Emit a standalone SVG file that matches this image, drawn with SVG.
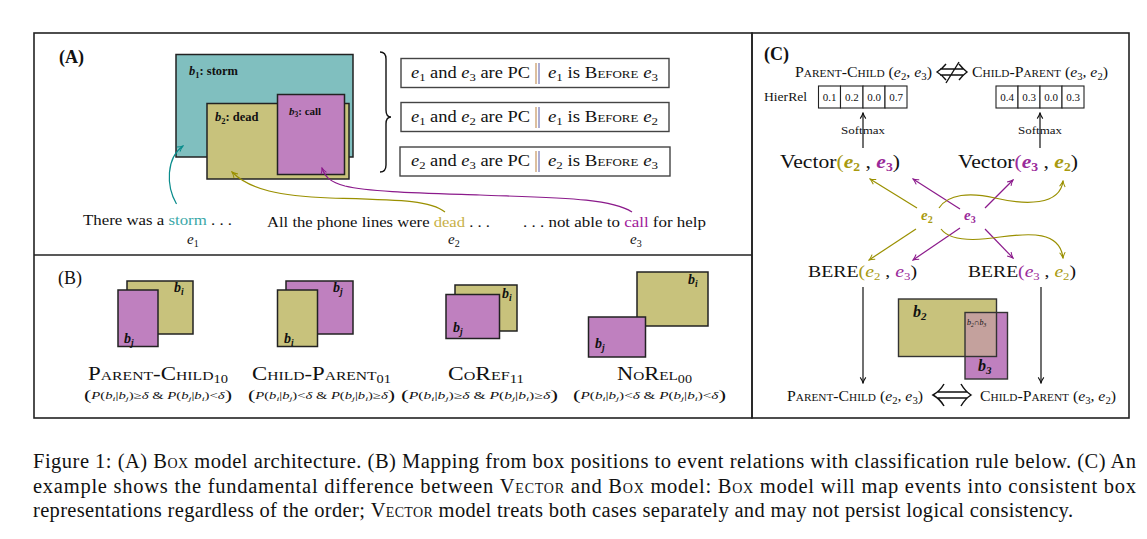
<svg xmlns="http://www.w3.org/2000/svg" width="1147" height="539" viewBox="0 0 1147 539">
<style>
text{font-family:"Liberation Serif","DejaVu Serif",serif;fill:#111}
.sc{font-variant:small-caps}
.i{font-style:italic}
.bi{font-style:italic;font-weight:bold}
.b{font-weight:bold}
.frame{fill:none;stroke:#222;stroke-width:1.6}
.bx{stroke:#222;stroke-width:1.5}
.teal{fill:#80bfbf}
.olive{fill:#c8c27c}
.purp{fill:#bf80bf}
.rbox{fill:#fff;stroke:#444;stroke-width:1.4}
.ln{fill:none;stroke-width:1.2}
.k{stroke:#111}
.tc{stroke:#0a8c8c}
.oc{stroke:#9a9000}
.pc{stroke:#8b1a8b}
.cell{fill:#fff;stroke:#222;stroke-width:1.1}
.ct{font-size:11px;text-anchor:middle}
.eo{fill:#a89a10}
.ep{fill:#9a2a9a}
.cond{font-size:10px}
</style>
<defs>
<marker id="mk" viewBox="0 0 10 10" refX="9" refY="5" markerWidth="8" markerHeight="8" markerUnits="userSpaceOnUse" orient="auto"><path d="M2,1.5 Q6,4.2 9,5 Q6,5.8 2,8.5" fill="none" stroke="#111" stroke-width="1.3"/></marker>
<marker id="mt" viewBox="0 0 10 10" refX="9" refY="5" markerWidth="8" markerHeight="8" markerUnits="userSpaceOnUse" orient="auto"><path d="M2,1.5 Q6,4.2 9,5 Q6,5.8 2,8.5" fill="none" stroke="#0a8c8c" stroke-width="1.3"/></marker>
<marker id="mo" viewBox="0 0 10 10" refX="9" refY="5" markerWidth="8" markerHeight="8" markerUnits="userSpaceOnUse" orient="auto"><path d="M2,1.5 Q6,4.2 9,5 Q6,5.8 2,8.5" fill="none" stroke="#9a9000" stroke-width="1.3"/></marker>
<marker id="mp" viewBox="0 0 10 10" refX="9" refY="5" markerWidth="8" markerHeight="8" markerUnits="userSpaceOnUse" orient="auto"><path d="M2,1.5 Q6,4.2 9,5 Q6,5.8 2,8.5" fill="none" stroke="#8b1a8b" stroke-width="1.3"/></marker>
</defs>
<rect width="1147" height="539" fill="#fff"/>

<!-- frames -->
<g id="frames">
<rect class="frame" x="34" y="33" width="718" height="385"/>
<line class="frame" x1="34" y1="255" x2="752" y2="255"/>
<rect class="frame" x="752" y="33" width="377" height="385"/>
</g>

<!-- Panel A -->
<g id="panelA">
<text x="59" y="63" class="b" font-size="18">(A)</text>
<g id="box-b1"><rect class="bx teal" x="176" y="54.5" width="177" height="102.5"/>
<text x="189" y="75" class="b" font-size="12.5"><tspan class="bi">b</tspan><tspan font-size="8.5" dy="2.5">1</tspan><tspan dy="-2.5">: storm</tspan></text></g>
<g id="box-b2"><rect class="bx olive" x="207" y="103.5" width="142" height="75.5"/>
<text x="215" y="121" class="b" font-size="12.5"><tspan class="bi">b</tspan><tspan font-size="8.5" dy="2.5">2</tspan><tspan dy="-2.5">: dead</tspan></text></g>
<g id="box-b3"><rect class="bx purp" x="277.5" y="94.5" width="67" height="80"/>
<text x="289" y="115" class="b" font-size="11"><tspan class="bi">b</tspan><tspan font-size="7.5" dy="2">3</tspan><tspan dy="-2">: call</tspan></text></g>
<path d="M380,52 Q386,52 386,59 L386,110 Q386,117 391,117 Q386,117 386,124 L386,165 Q386,172 380,172" fill="none" stroke="#111" stroke-width="1.4"/>

<g id="rel1"><rect class="rbox" x="401" y="58.5" width="268" height="29"/>
<text x="411" y="77.5" font-size="16" textLength="119" lengthAdjust="spacingAndGlyphs"><tspan class="i">e</tspan><tspan font-size="11" dy="3">1</tspan><tspan dy="-3"> and </tspan><tspan class="i">e</tspan><tspan font-size="11" dy="3">3</tspan><tspan dy="-3"> are PC</tspan></text>
<line x1="536" y1="63" x2="536" y2="84" stroke="#c08a50" stroke-width="1.1"/><line x1="539" y1="63" x2="539" y2="84" stroke="#6a6ab0" stroke-width="1.1"/>
<text x="548" y="77.5" font-size="16" textLength="110" lengthAdjust="spacingAndGlyphs"><tspan class="i">e</tspan><tspan font-size="11" dy="3">1</tspan><tspan dy="-3"> is </tspan><tspan class="sc">Before</tspan><tspan> </tspan><tspan class="i">e</tspan><tspan font-size="11" dy="3">3</tspan></text></g>

<g id="rel2"><rect class="rbox" x="401" y="102.5" width="268" height="29"/>
<text x="411" y="121.5" font-size="16" textLength="119" lengthAdjust="spacingAndGlyphs"><tspan class="i">e</tspan><tspan font-size="11" dy="3">1</tspan><tspan dy="-3"> and </tspan><tspan class="i">e</tspan><tspan font-size="11" dy="3">2</tspan><tspan dy="-3"> are PC</tspan></text>
<line x1="536" y1="107" x2="536" y2="128" stroke="#c08a50" stroke-width="1.1"/><line x1="539" y1="107" x2="539" y2="128" stroke="#6a6ab0" stroke-width="1.1"/>
<text x="548" y="121.5" font-size="16" textLength="110" lengthAdjust="spacingAndGlyphs"><tspan class="i">e</tspan><tspan font-size="11" dy="3">1</tspan><tspan dy="-3"> is </tspan><tspan class="sc">Before</tspan><tspan> </tspan><tspan class="i">e</tspan><tspan font-size="11" dy="3">2</tspan></text></g>

<g id="rel3"><rect class="rbox" x="400" y="147" width="270" height="29"/>
<text x="411" y="165.5" font-size="16" textLength="119" lengthAdjust="spacingAndGlyphs"><tspan class="i">e</tspan><tspan font-size="11" dy="3">2</tspan><tspan dy="-3"> and </tspan><tspan class="i">e</tspan><tspan font-size="11" dy="3">3</tspan><tspan dy="-3"> are PC</tspan></text>
<line x1="536" y1="151" x2="536" y2="172" stroke="#c08a50" stroke-width="1.1"/><line x1="539" y1="151" x2="539" y2="172" stroke="#6a6ab0" stroke-width="1.1"/>
<text x="548" y="165.5" font-size="16" textLength="110" lengthAdjust="spacingAndGlyphs"><tspan class="i">e</tspan><tspan font-size="11" dy="3">2</tspan><tspan dy="-3"> is </tspan><tspan class="sc">Before</tspan><tspan> </tspan><tspan class="i">e</tspan><tspan font-size="11" dy="3">3</tspan></text></g>

<g id="sent1"><text x="83" y="225" font-size="15" textLength="149" lengthAdjust="spacingAndGlyphs">There was a <tspan fill="#3aa8a8">storm</tspan> . . .</text>
<text x="187" y="244" font-size="15" class="i">e<tspan font-size="10" dy="3" font-style="normal">1</tspan></text></g>
<g id="sent2"><text x="267" y="227" font-size="15" textLength="223" lengthAdjust="spacingAndGlyphs">All the phone lines were <tspan fill="#c8b048">dead</tspan> . . .</text>
<text x="448" y="244" font-size="15" class="i">e<tspan font-size="10" dy="3" font-style="normal">2</tspan></text></g>
<g id="sent3"><text x="523" y="227" font-size="15" textLength="183" lengthAdjust="spacingAndGlyphs">. . . not able to <tspan fill="#a0209a">call</tspan> for help</text>
<text x="630" y="244" font-size="15" class="i">e<tspan font-size="10" dy="3" font-style="normal">3</tspan></text></g>
</g>

<!-- connectors A -->
<g id="connectorsA">
<path class="ln tc" d="M176.5,204 C166,186 166,158 183,146" marker-end="url(#mt)"/>
<path class="ln oc" d="M445,212 C430,200 400,200 330,198 C280,196 250,190 232,172" marker-end="url(#mo)"/>
<path class="ln pc" d="M632,212 C610,198 560,198 480,195 C420,193 370,192 345,186 C330,182 325,177 322,168" marker-end="url(#mp)"/>
</g>

<!-- Panel B -->
<g id="panelB">
<text x="58" y="284" font-size="18">(B)</text>
<g id="pc">
<rect class="bx olive" x="127" y="281" width="66" height="53"/>
<rect class="bx purp" x="118" y="290" width="40" height="56.5"/>
<text x="174" y="292" font-size="14" class="bi">b<tspan font-size="9.5" dy="2.5">i</tspan></text>
<text x="124" y="343" font-size="14" class="bi">b<tspan font-size="9.5" dy="2.5">j</tspan></text>
<text x="88" y="380" font-size="19" class="sc" textLength="140" lengthAdjust="spacingAndGlyphs">Parent-Child<tspan font-size="12" dy="3">10</tspan></text>
<text x="84" y="399" class="cond" textLength="148" lengthAdjust="spacingAndGlyphs"><tspan font-size="15" dy="1">(</tspan><tspan class="i" dy="-1">P</tspan>(<tspan class="i">b</tspan><tspan font-size="7" dy="2" class="i">i</tspan><tspan dy="-2">|</tspan><tspan class="i">b</tspan><tspan font-size="7" dy="2" class="i">j</tspan><tspan dy="-2">)≥</tspan><tspan class="i">δ</tspan> &amp; <tspan class="i">P</tspan>(<tspan class="i">b</tspan><tspan font-size="7" dy="2" class="i">j</tspan><tspan dy="-2">|</tspan><tspan class="i">b</tspan><tspan font-size="7" dy="2" class="i">i</tspan><tspan dy="-2">)&lt;</tspan><tspan class="i">δ</tspan><tspan font-size="15" dy="1">)</tspan></text>
</g>
<g id="cp">
<rect class="bx purp" x="286" y="281" width="67" height="53"/>
<rect class="bx olive" x="277.5" y="290" width="40" height="56.5"/>
<text x="333" y="292" font-size="14" class="bi">b<tspan font-size="9.5" dy="2.5">j</tspan></text>
<text x="284" y="343" font-size="14" class="bi">b<tspan font-size="9.5" dy="2.5">i</tspan></text>
<text x="252" y="380" font-size="19" class="sc" textLength="139" lengthAdjust="spacingAndGlyphs">Child-Parent<tspan font-size="12" dy="3">01</tspan></text>
<text x="248" y="399" class="cond" textLength="147" lengthAdjust="spacingAndGlyphs"><tspan font-size="15" dy="1">(</tspan><tspan class="i" dy="-1">P</tspan>(<tspan class="i">b</tspan><tspan font-size="7" dy="2" class="i">i</tspan><tspan dy="-2">|</tspan><tspan class="i">b</tspan><tspan font-size="7" dy="2" class="i">j</tspan><tspan dy="-2">)&lt;</tspan><tspan class="i">δ</tspan> &amp; <tspan class="i">P</tspan>(<tspan class="i">b</tspan><tspan font-size="7" dy="2" class="i">j</tspan><tspan dy="-2">|</tspan><tspan class="i">b</tspan><tspan font-size="7" dy="2" class="i">i</tspan><tspan dy="-2">)≥</tspan><tspan class="i">δ</tspan><tspan font-size="15" dy="1">)</tspan></text>
</g>
<g id="coref">
<rect class="bx olive" x="455" y="285" width="62" height="46"/>
<rect class="bx purp" x="446" y="294.5" width="53.5" height="44"/>
<text x="502" y="298" font-size="14" class="bi">b<tspan font-size="9.5" dy="2.5">i</tspan></text>
<text x="453" y="332" font-size="14" class="bi">b<tspan font-size="9.5" dy="2.5">j</tspan></text>
<text x="448" y="380" font-size="19" class="sc" textLength="76" lengthAdjust="spacingAndGlyphs">CoRef<tspan font-size="12" dy="3">11</tspan></text>
<text x="401" y="399" class="cond" textLength="157" lengthAdjust="spacingAndGlyphs"><tspan font-size="15" dy="1">(</tspan><tspan class="i" dy="-1">P</tspan>(<tspan class="i">b</tspan><tspan font-size="7" dy="2" class="i">i</tspan><tspan dy="-2">|</tspan><tspan class="i">b</tspan><tspan font-size="7" dy="2" class="i">j</tspan><tspan dy="-2">)≥</tspan><tspan class="i">δ</tspan> &amp; <tspan class="i">P</tspan>(<tspan class="i">b</tspan><tspan font-size="7" dy="2" class="i">j</tspan><tspan dy="-2">|</tspan><tspan class="i">b</tspan><tspan font-size="7" dy="2" class="i">i</tspan><tspan dy="-2">)≥</tspan><tspan class="i">δ</tspan><tspan font-size="15" dy="1">)</tspan></text>
</g>
<g id="norel">
<rect class="bx olive" x="637" y="272" width="71" height="54"/>
<rect class="bx purp" x="588.5" y="317" width="57" height="40"/>
<text x="688" y="284" font-size="14" class="bi">b<tspan font-size="9.5" dy="2.5">i</tspan></text>
<text x="595" y="348" font-size="14" class="bi">b<tspan font-size="9.5" dy="2.5">j</tspan></text>
<text x="617" y="380" font-size="19" class="sc" textLength="75" lengthAdjust="spacingAndGlyphs">NoRel<tspan font-size="12" dy="3">00</tspan></text>
<text x="573" y="399" class="cond" textLength="153" lengthAdjust="spacingAndGlyphs"><tspan font-size="15" dy="1">(</tspan><tspan class="i" dy="-1">P</tspan>(<tspan class="i">b</tspan><tspan font-size="7" dy="2" class="i">i</tspan><tspan dy="-2">|</tspan><tspan class="i">b</tspan><tspan font-size="7" dy="2" class="i">j</tspan><tspan dy="-2">)&lt;</tspan><tspan class="i">δ</tspan> &amp; <tspan class="i">P</tspan>(<tspan class="i">b</tspan><tspan font-size="7" dy="2" class="i">j</tspan><tspan dy="-2">|</tspan><tspan class="i">b</tspan><tspan font-size="7" dy="2" class="i">i</tspan><tspan dy="-2">)&lt;</tspan><tspan class="i">δ</tspan><tspan font-size="15" dy="1">)</tspan></text>
</g>
</g>

<!-- Panel C -->
<g id="panelC">
<text x="764" y="60" class="b" font-size="18">(C)</text>
<g id="topRel">
<text x="795" y="77" font-size="14" textLength="137" lengthAdjust="spacingAndGlyphs"><tspan class="sc">Parent-Child</tspan> (<tspan class="i">e</tspan><tspan font-size="9.5" dy="3">2</tspan><tspan dy="-3">, </tspan><tspan class="i">e</tspan><tspan font-size="9.5" dy="3">3</tspan><tspan dy="-3">)</tspan></text>
<path d="M946,64 Q942,69 937,72 Q942,75 946,80 M959,64 Q963,69 967,72 Q963,75 959,80 M940,69 L964,69 M940,75 L964,75 M959,62 L946,83" fill="none" stroke="#111" stroke-width="1.4"/>
<text x="972" y="77" font-size="14" textLength="136" lengthAdjust="spacingAndGlyphs"><tspan class="sc">Child-Parent</tspan> (<tspan class="i">e</tspan><tspan font-size="9.5" dy="3">3</tspan><tspan dy="-3">, </tspan><tspan class="i">e</tspan><tspan font-size="9.5" dy="3">2</tspan><tspan dy="-3">)</tspan></text>
</g>
<text x="764" y="101" font-size="13" textLength="43" lengthAdjust="spacingAndGlyphs">HierRel</text>
<g id="table1">
<rect class="cell" x="818.5" y="86" width="22" height="22"/><rect class="cell" x="840.5" y="86" width="22.5" height="22"/><rect class="cell" x="863" y="86" width="22" height="22"/><rect class="cell" x="885" y="86" width="22" height="22"/>
<text class="ct" x="829.5" y="101">0.1</text><text class="ct" x="851.8" y="101">0.2</text><text class="ct" x="874" y="101">0.0</text><text class="ct" x="896" y="101">0.7</text>
</g>
<g id="table2">
<rect class="cell" x="996" y="86" width="22" height="22"/><rect class="cell" x="1018" y="86" width="22" height="22"/><rect class="cell" x="1040" y="86" width="22" height="22"/><rect class="cell" x="1062" y="86" width="22" height="22"/>
<text class="ct" x="1007" y="101">0.4</text><text class="ct" x="1029" y="101">0.3</text><text class="ct" x="1051" y="101">0.0</text><text class="ct" x="1073" y="101">0.3</text>
</g>
<text x="841" y="134" font-size="11" textLength="44" lengthAdjust="spacingAndGlyphs">Softmax</text>
<text x="1018" y="134" font-size="11" textLength="44" lengthAdjust="spacingAndGlyphs">Softmax</text>

<g id="vec1"><text x="780" y="168" font-size="19" textLength="120" lengthAdjust="spacingAndGlyphs">Vector<tspan fill="#a89a10">(</tspan><tspan class="bi eo">e</tspan><tspan class="eo b" font-size="12" dy="3">2</tspan><tspan dy="-3"> , </tspan><tspan class="bi ep">e</tspan><tspan class="ep b" font-size="12" dy="3">3</tspan><tspan dy="-3">)</tspan></text></g>
<g id="vec2"><text x="958" y="168" font-size="19" textLength="120" lengthAdjust="spacingAndGlyphs">Vector<tspan fill="#9a2a9a">(</tspan><tspan class="bi ep">e</tspan><tspan class="ep b" font-size="12" dy="3">3</tspan><tspan dy="-3"> , </tspan><tspan class="bi eo">e</tspan><tspan class="eo b" font-size="12" dy="3">2</tspan><tspan dy="-3">)</tspan></text></g>

<g id="ev2"><text x="921" y="220" font-size="15" class="bi eo">e<tspan font-size="10" dy="3" font-style="normal">2</tspan></text></g>
<g id="ev3"><text x="964" y="220" font-size="15" class="bi ep">e<tspan font-size="10" dy="3" font-style="normal">3</tspan></text></g>

<g id="bere1"><text x="808" y="277" font-size="17" textLength="109" lengthAdjust="spacingAndGlyphs">BERE<tspan fill="#a89a10">(</tspan><tspan class="i eo">e</tspan><tspan class="eo" font-size="11" dy="3">2</tspan><tspan dy="-3"> , </tspan><tspan class="i ep">e</tspan><tspan class="ep" font-size="11" dy="3">3</tspan><tspan dy="-3">)</tspan></text></g>
<g id="bere2"><text x="968" y="277" font-size="17" textLength="108" lengthAdjust="spacingAndGlyphs">BERE<tspan fill="#9a2a9a">(</tspan><tspan class="i ep">e</tspan><tspan class="ep" font-size="11" dy="3">3</tspan><tspan dy="-3"> , </tspan><tspan class="i eo">e</tspan><tspan class="eo" font-size="11" dy="3">2</tspan><tspan dy="-3">)</tspan></text></g>

<g id="boxesC">
<rect x="898.5" y="299" width="98" height="57.5" fill="#c8c27c"/>
<rect x="965" y="312.5" width="42.5" height="66.5" fill="#bf80bf"/>
<rect x="965" y="312.5" width="31.5" height="44" fill="#c4a19d"/>
<rect x="898.5" y="299" width="98" height="57.5" fill="none" stroke="#333" stroke-width="1.4"/>
<rect x="965" y="312.5" width="42.5" height="66.5" fill="none" stroke="#333" stroke-width="1.4"/>
<text x="913" y="317" font-size="16" class="bi">b<tspan font-size="11" dy="3">2</tspan></text>
<text x="978" y="371" font-size="16" class="bi">b<tspan font-size="11" dy="3">3</tspan></text>
<text x="967" y="325" font-size="8" class="i">b<tspan font-size="5.5" dy="1.5">2</tspan><tspan dy="-1.5" font-style="normal">∩</tspan>b<tspan font-size="5.5" dy="1.5">3</tspan></text>
</g>

<g id="botRel">
<text x="787" y="401" font-size="14" textLength="136" lengthAdjust="spacingAndGlyphs"><tspan class="sc">Parent-Child</tspan> (<tspan class="i">e</tspan><tspan font-size="9.5" dy="3">2</tspan><tspan dy="-3">, </tspan><tspan class="i">e</tspan><tspan font-size="9.5" dy="3">3</tspan><tspan dy="-3">)</tspan></text>
<path d="M944,384 Q940,391 933,395 Q940,399 944,406 M961,384 Q965,391 971,395 Q965,399 961,406 M937,392 L967,392 M937,398 L967,398" fill="none" stroke="#111" stroke-width="1.5"/>
<text x="980" y="401" font-size="14" textLength="136" lengthAdjust="spacingAndGlyphs"><tspan class="sc">Child-Parent</tspan> (<tspan class="i">e</tspan><tspan font-size="9.5" dy="3">3</tspan><tspan dy="-3">, </tspan><tspan class="i">e</tspan><tspan font-size="9.5" dy="3">2</tspan><tspan dy="-3">)</tspan></text>
</g>
</g>

<!-- connectors C -->
<g id="connectorsC">
<line class="ln k" x1="863" y1="148" x2="863" y2="113" marker-end="url(#mk)"/>
<line class="ln k" x1="1040" y1="148" x2="1040" y2="113" marker-end="url(#mk)"/>
<line class="ln oc" x1="917" y1="208" x2="870" y2="179" marker-end="url(#mo)"/>
<line class="ln pc" x1="960" y1="209" x2="913" y2="179" marker-end="url(#mp)"/>
<line class="ln pc" x1="985" y1="208" x2="1013" y2="180" marker-end="url(#mp)"/>
<path class="ln oc" d="M939,208 C948,194 970,192 995,198 C1025,205 1060,206 1063,181" marker-end="url(#mo)"/>
<line class="ln oc" x1="916" y1="229" x2="869" y2="260" marker-end="url(#mo)"/>
<line class="ln pc" x1="960" y1="228" x2="913" y2="260" marker-end="url(#mp)"/>
<line class="ln pc" x1="985" y1="229" x2="1013" y2="258" marker-end="url(#mp)"/>
<path class="ln oc" d="M941,229 C950,241 975,241 1000,237 C1030,233 1060,231 1063,258" marker-end="url(#mo)"/>
<line class="ln k" x1="863" y1="287" x2="863" y2="383" marker-end="url(#mk)"/>
<line class="ln k" x1="1041" y1="287" x2="1041" y2="383" marker-end="url(#mk)"/>
</g>

<!-- caption -->
<g id="caption" font-size="20.5">
<text x="33" y="468" font-size="20.5" textLength="1103" lengthAdjust="spacing">Figure 1: (A) <tspan class="sc">Box</tspan> model architecture. (B) Mapping from box positions to event relations with classification rule below. (C) An</text>
<text x="33" y="493" font-size="20.5" textLength="1103" lengthAdjust="spacing">example shows the fundamental difference between <tspan class="sc">Vector</tspan> and <tspan class="sc">Box</tspan> model: <tspan class="sc">Box</tspan> model will map events into consistent box</text>
<text x="33" y="517" font-size="20.5" textLength="1040" lengthAdjust="spacing">representations regardless of the order; <tspan class="sc">Vector</tspan> model treats both cases separately and may not persist logical consistency.</text>
</g>
</svg>
